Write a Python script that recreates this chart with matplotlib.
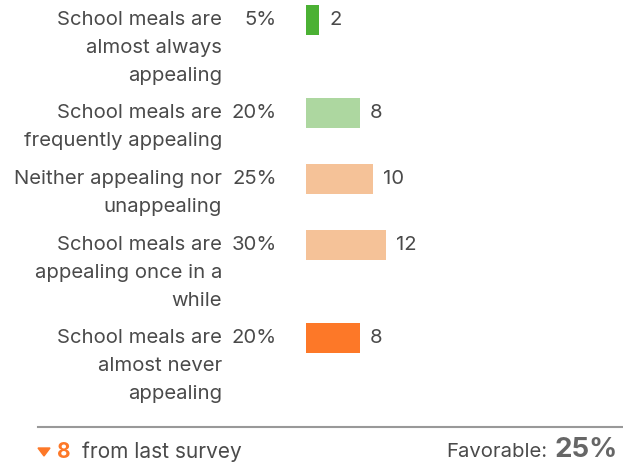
import matplotlib.pyplot as plt
from matplotlib.patches import Polygon

labels = ['School meals are\nalmost always\nappealing',
          'School meals are\nfrequently appealing',
          'Neither appealing nor\nunappealing',
          'School meals are\nappealing once in a\nwhile',
          'School meals are\nalmost never\nappealing']
percents = ['5%', '20%', '25%', '30%', '20%']
counts = [2, 8, 10, 12, 8]
colors = ['#4BB134', '#ADD7A0', '#F5C298', '#F5C298', '#FD7828']
change = 8
favorable = '25%'

W, H = 623, 463
plt.rcParams['font.family'] = ['Inter', 'DejaVu Sans']
fig = plt.figure(figsize=(W / 100, H / 100), dpi=100)
ax = fig.add_axes([0, 0, 1, 1])

# x: one unit = 6.7 px, zero at px 306 ; y in pixels from top
px = 6.7
x0 = 306
ax.set_xlim(-x0 / px, (W - x0) / px)
ax.set_ylim(H, 0)
ax.axis('off')

line_h = 27
gap = 12
bar_h = 30
text_c = '#4a4a4a'
fs = 14.6

y = 20
for lab, pct, n, c in zip(labels, percents, counts, colors):
    ax.barh(y, n, height=bar_h, color=c, left=0)
    ax.text((222 - x0) / px, y - 9, lab, ha='right', va='top', fontsize=fs,
            color=text_c, linespacing=1.72)
    ax.text((277 - x0) / px, y, pct, ha='right', va='center', fontsize=fs, color=text_c)
    ax.text(n + 10 / px, y, str(n), ha='left', va='center', fontsize=fs, color=text_c)
    nlines = lab.count('\n') + 1
    y += nlines * line_h + gap

# footer
ax.plot([(38 - x0) / px, (W - x0) / px], [427, 427], color='#999999', lw=1.5)
tri = Polygon([[(38 - x0) / px, 448], [(50 - x0) / px, 448], [(44 - x0) / px, 456]],
              closed=True, color='#FD7828')
ax.add_patch(tri)
ax.text((57 - x0) / px, 452, str(change), ha='left', va='center', fontsize=15,
        fontweight='bold', color='#FD7828')
ax.text((82 - x0) / px, 452, 'from last survey', ha='left', va='center', fontsize=fs + 0.4,
        color=text_c)
ax.text((547 - x0) / px, 452, 'Favorable:', ha='right', va='center', fontsize=fs,
        color=text_c)
ax.text((555 - x0) / px, 457, favorable, ha='left', va='baseline', fontsize=20,
        fontweight='bold', color='#666666')

fig.savefig('out.png', dpi=100)
